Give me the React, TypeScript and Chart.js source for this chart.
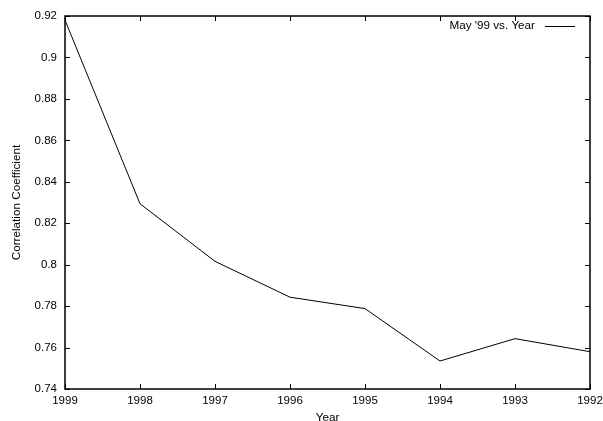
import React, { useEffect, useRef } from "react";
import { Chart, registerables } from "chart.js";

Chart.register(...registerables);

const years: string[] = ["1999", "1998", "1997", "1996", "1995", "1994", "1993", "1992"];
const correlation: number[] = [0.918, 0.8294, 0.8016, 0.7843, 0.7788, 0.7535, 0.7643, 0.758];
const seriesLabel = "May '99 vs. Year";
const yTitle = "Correlation Coefficient";
const xTitle = "Year";
const yMin = 0.74;
const yMax = 0.92;
const yStep = 0.02;

const FONT = "'Liberation Sans', Arial, Helvetica, sans-serif";

const framePlugin = {
  id: "frame",
  afterDraw(chart: any) {
    const { ctx, chartArea, scales } = chart;
    const { left, right, top, bottom } = chartArea;
    const tl = 5;
    ctx.save();
    ctx.strokeStyle = "#000";
    ctx.lineWidth = 1;
    ctx.beginPath();
    const ys = scales.y;
    ys.ticks.forEach((t: any) => {
      const py = Math.round(ys.getPixelForValue(t.value)) + 0.5;
      ctx.moveTo(left, py);
      ctx.lineTo(left + tl, py);
      ctx.moveTo(right, py);
      ctx.lineTo(right - tl, py);
    });
    const xs = scales.x;
    xs.ticks.forEach((t: any, i: number) => {
      const px = Math.round(xs.getPixelForTick(i)) + 0.5;
      ctx.moveTo(px, bottom);
      ctx.lineTo(px, bottom - tl);
      ctx.moveTo(px, top);
      ctx.lineTo(px, top + tl);
    });
    ctx.stroke();
    ctx.lineWidth = 1.5;
    ctx.strokeRect(left, top, right - left, bottom - top);
    // legend
    ctx.font = "11.7px " + FONT;
    ctx.fillStyle = "#000";
    ctx.textAlign = "right";
    ctx.textBaseline = "middle";
    const ly = top + 10;
    const lineEnd = right - 15;
    const lineStart = lineEnd - 30;
    ctx.fillText(seriesLabel, lineStart - 10, ly);
    ctx.lineWidth = 1;
    ctx.beginPath();
    ctx.moveTo(lineStart, Math.round(ly) + 0.5);
    ctx.lineTo(lineEnd, Math.round(ly) + 0.5);
    ctx.stroke();
    ctx.restore();
  },
};

export default function App() {
  const ref = useRef<HTMLCanvasElement>(null);
  useEffect(() => {
    if (!ref.current) return;
    const chart = new Chart(ref.current, {
      type: "line",
      data: {
        labels: years,
        datasets: [
          {
            label: seriesLabel,
            data: correlation,
            borderColor: "#000",
            borderWidth: 1,
            pointRadius: 0,
            tension: 0,
            fill: false,
          },
        ],
      },
      options: {
        responsive: false,
        animation: false,
        layout: { padding: { left: 0, top: 16, right: 13, bottom: 0 } },
        plugins: { legend: { display: false }, tooltip: { enabled: false } },
        scales: {
          x: {
            type: "category",
            offset: false,
            grid: { display: false, drawTicks: false },
            border: { display: false },
            ticks: {
              color: "#000",
              font: { family: FONT, size: 11.5 },
              padding: 5,
              maxRotation: 0,
              autoSkip: false,
            },
            title: {
              display: true,
              text: xTitle,
              color: "#000",
              font: { family: FONT, size: 11.7, lineHeight: 1 },
              padding: { top: 0, bottom: -3 },
            },
            afterFit: (s: any) => {
              s.height = 32;
              s.paddingLeft = 0;
              s.paddingRight = 0;
            },
          },
          y: {
            min: yMin,
            max: yMax,
            grid: { display: false, drawTicks: false },
            border: { display: false },
            ticks: {
              stepSize: yStep,
              color: "#000",
              font: { family: FONT, size: 11.5 },
              padding: 8,
              callback: (v: any) => String(parseFloat(Number(v).toFixed(2))),
            },
            title: {
              display: true,
              text: yTitle,
              color: "#000",
              font: { family: FONT, size: 11.7, lineHeight: 1 },
              padding: { top: 11, bottom: 0 },
            },
            afterFit: (s: any) => {
              s.width = 65;
              s.paddingTop = 0;
              s.paddingBottom = 0;
            },
          },
        },
      },
      plugins: [framePlugin],
    });
    return () => chart.destroy();
  }, []);
  return (
    <div style={{ position: "fixed", left: 0, top: 0, width: 603, height: 421, background: "#fff" }}>
      <canvas ref={ref} width={603} height={421} style={{ width: 603, height: 421 }} />
    </div>
  );
}
